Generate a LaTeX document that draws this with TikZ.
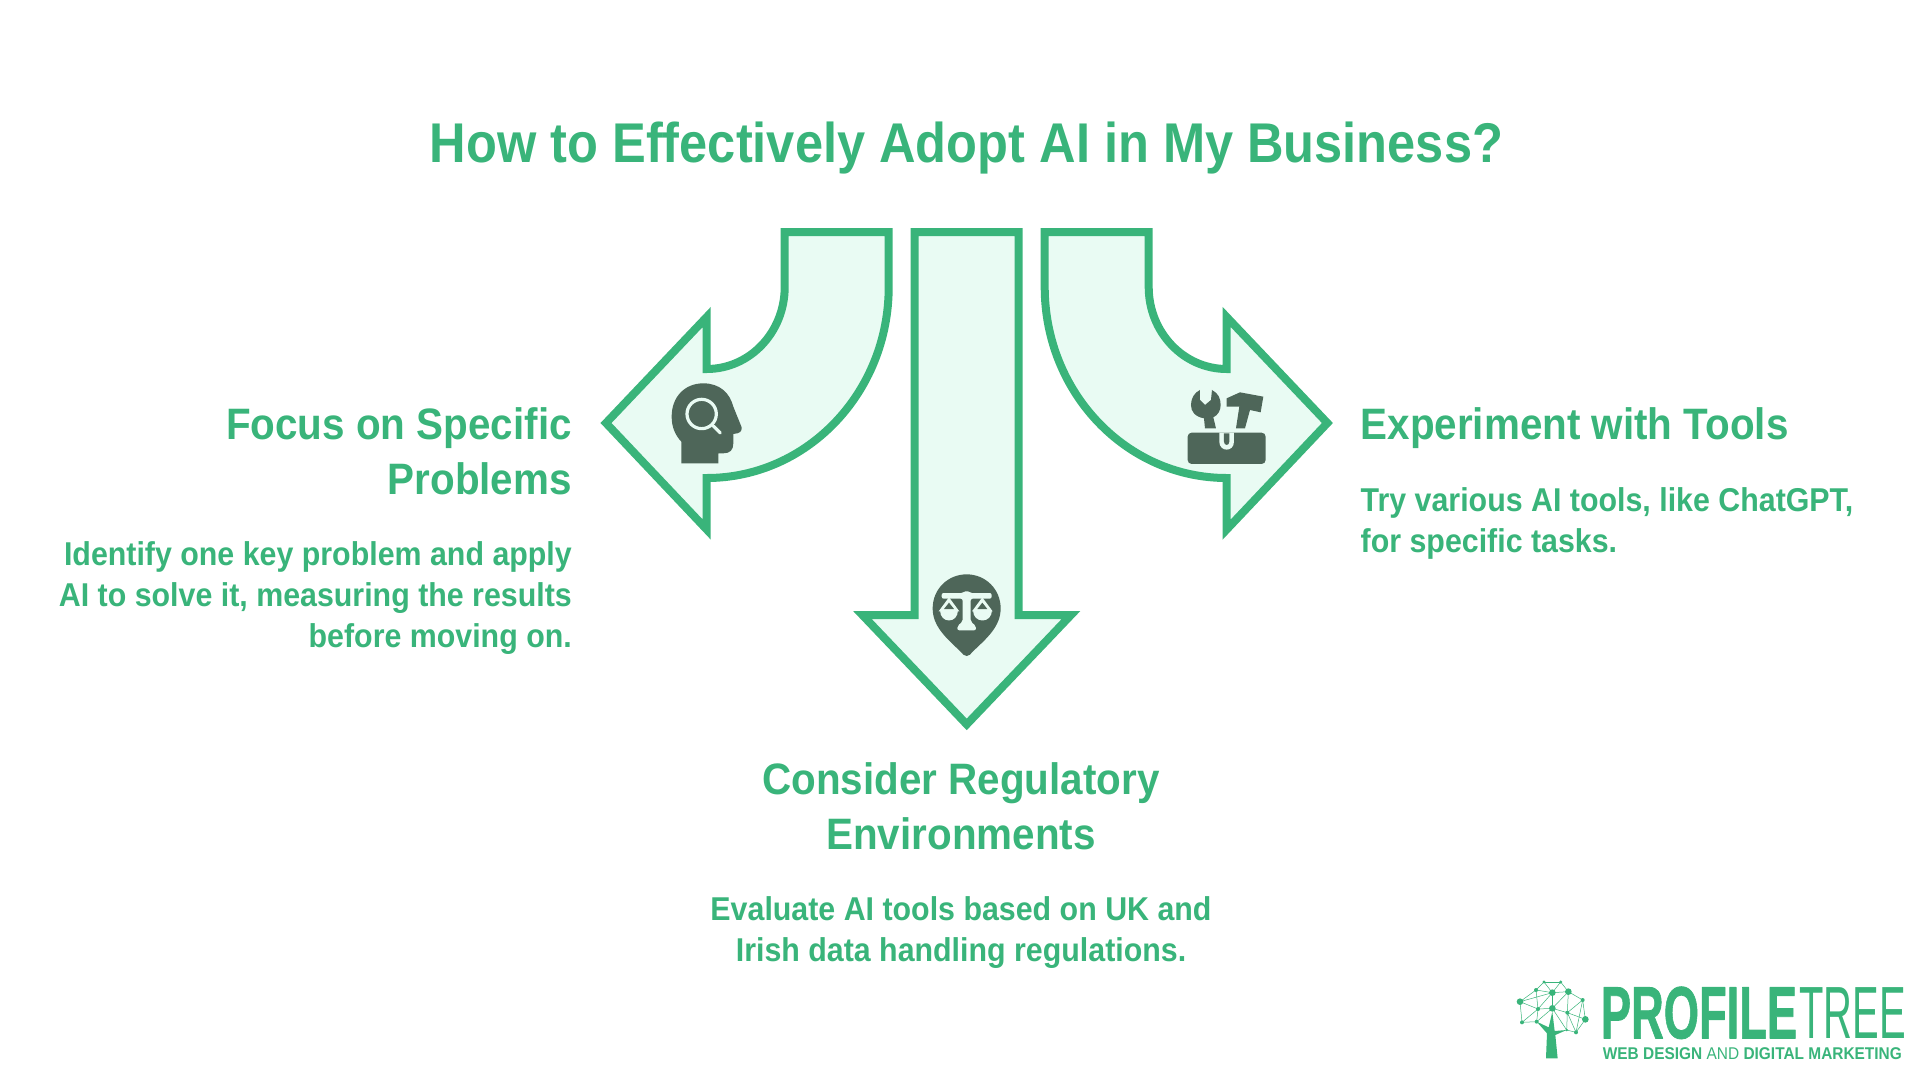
\documentclass[tikz,border=0pt]{standalone}
\usepackage{graphicx}
\usepackage{fontspec}
\setmainfont{Liberation Sans}[FakeStretch=0.92]
\newfontfamily\titlefont{Liberation Sans}[FakeStretch=0.903]
\newfontfamily\headfont{Liberation Sans}[FakeStretch=0.918]
\newfontfamily\logofont{Liberation Sans}
\newfontfamily\logoheavy{Liberation Sans Bold}[FakeBold=1.2]
\definecolor{arrowgreen}{rgb}{0.224,0.706,0.478}
\definecolor{arrowfill}{rgb}{0.914,0.984,0.953}
\definecolor{icondark}{rgb}{0.306,0.400,0.349}
\tikzset{
  bentarrow/.style={line width=8pt,draw=arrowgreen,fill=arrowfill,line cap=butt,line join=miter,miter limit=10},
  icon/.style={fill=icondark,draw=none,line join=round},
  iconcut/.style={draw=arrowfill,fill=none},
  titletext/.style={inner sep=0pt,text=arrowgreen,font=\titlefont\fontsize{56}{66}\selectfont\bfseries},
  headtext/.style={inner sep=0pt,text=arrowgreen,font=\headfont\fontsize{44}{55}\selectfont\bfseries},
  bodytext/.style={inner sep=0pt,text=arrowgreen,font=\fontsize{33}{41}\selectfont\bfseries},
  logodot/.style={fill=arrowgreen,draw=none},
  zoomed/.style={shift={(#1)},scale=0.3333}
}
\begin{document}
\begin{tikzpicture}[line cap=round,line join=round,x=1pt,y=-1pt]
  \useasboundingbox (0,0) rectangle (1920,1080);
  % title
  \node[titletext,anchor=base] (title) at (966.5,162.7) {How to Effectively Adopt AI in My Business?};
  % arrows
  \draw[bentarrow] (784.7,232) -- (888.7,232) -- (888.7,287)
    .. controls (888.7,392.5) and (807.2,478) .. (706.7,478)
    -- (706.7,529.5) -- (606,423) -- (706.7,317) -- (706.7,369)
    .. controls (749.8,369) and (784.7,332.3) .. (784.7,287) -- cycle;
  \draw[bentarrow] (914.7,232) -- (1018.7,232) -- (1018.7,615) -- (1071,615)
    -- (966.7,724.4) -- (862.4,615) -- (914.7,615) -- cycle;
  \draw[bentarrow] (1148.7,232) -- (1044.7,232) -- (1044.7,287)
    .. controls (1044.7,392.5) and (1126.2,478) .. (1226.7,478)
    -- (1226.7,529.5) -- (1327.4,423) -- (1226.7,317) -- (1226.7,369)
    .. controls (1183.6,369) and (1148.7,332.3) .. (1148.7,287) -- cycle;
  % head icon
  \begin{scope}[zoomed={580,210}]
    \fill[icon] (304,760) -- (304,695) .. controls (285,675) and (275,650) .. (275,620)
      .. controls (275,560) and (315,520) .. (370,520)
      .. controls (420,520) and (450,550) .. (460,590)
      -- (485,652) .. controls (486,665) and (480,670) .. (460,672)
      -- (460,700) .. controls (460,720) and (450,730) .. (430,730) -- (415,730) -- (415,760) -- cycle;
    \draw[iconcut,line width=3.2pt] (365,612) circle (44);
    \draw[iconcut,line width=3.2pt] (400,648) -- (421,669);
  \end{scope}
  % tools icon
  \begin{scope}[zoomed={1030,210}]
    \fill[icon,rounded corners=4pt] (473,668) rectangle (707,762);
    \fill[icon] (510,540) -- (510,570) -- (525,585) -- (543,570) -- (546,540)
      .. controls (565,550) and (572,565) .. (572,585)
      .. controls (572,600) and (565,615) .. (550,622) -- (558,655) -- (525,655) -- (522,625)
      .. controls (495,620) and (483,605) .. (483,585)
      .. controls (483,565) and (493,548) .. (510,540) -- cycle;
    \fill[icon] (590,565) -- (630,547) -- (700,560) -- (692,607) -- (660,600) -- (645,655) -- (618,655) -- (628,590) -- (590,590) -- cycle;
    \fill[arrowfill] (568,668) -- (568,695) .. controls (568,727) and (612,727) .. (612,695) -- (612,668) -- cycle;
    \fill[icon] (582,670) -- (598,670) -- (598,695) .. controls (598,708) and (582,708) .. (582,695) -- cycle;
  \end{scope}
  % scales icon
  \begin{scope}[zoomed={840,540}]
    \fill[icon] (380,348) .. controls (372,348) and (368,342) .. (362,335)
      .. controls (320,295) and (278,260) .. (278,205)
      .. controls (278,148) and (323,103) .. (380,103)
      .. controls (437,103) and (482,148) .. (482,205)
      .. controls (482,260) and (440,295) .. (398,335)
      .. controls (392,342) and (388,348) .. (380,348) -- cycle;
    \fill[arrowfill,rounded corners=2pt] (305,159) -- (370,159) -- (380,150) -- (390,159) -- (455,159) -- (455,176) -- (392,176)
      -- (392,245) -- (408,258) -- (408,271) -- (352,271) -- (352,258) -- (368,245) -- (368,176) -- (305,176) -- cycle;
    \foreach \px in {327,427}{
      \fill[arrowfill] (\px,172) -- (\px+31,214) -- (\px-31,214) -- cycle;
      \fill[icondark] (\px,188) -- (\px+15,207) -- (\px-15,207) -- cycle;
      \fill[arrowfill] (\px-28,211) .. controls (\px-28,252) and (\px+28,252) .. (\px+28,211) -- cycle;
    }
  \end{scope}
  % left text
  \node[headtext,anchor=base east,align=right] (focushead) at (572,494) {Focus on Specific\\Problems};
  \node[bodytext,anchor=base east,align=right] (focusbody) at (572,647) {Identify one key problem and apply\\AI to solve it, measuring the results\\before moving on.};
  % bottom text
  \node[headtext,anchor=base,align=center] (rulehead) at (961,849) {Consider Regulatory\\Environments};
  \node[bodytext,anchor=base,align=center] (rulebody) at (961,961) {Evaluate AI tools based on UK and\\Irish data handling regulations.};
  % right text
  \node[headtext,anchor=base west,align=left] (toolhead) at (1360.5,439) {Experiment with Tools};
  \node[bodytext,anchor=base west,align=left] (toolbody) at (1360.5,552) {Try various AI tools, like ChatGPT,\\for specific tasks.};
  % logo
  \begin{scope}[zoomed={1510,970}]
    \foreach \pname/\pa/\pb/\pr in {a/102/36/5,b/152/36/5,c/78/60/6,d/127/68/10,e/175/65/10,f/30/95/10,g/218/90/6,h/84/117/6,i/127/115/10,j/172/128/6,k/226/148/10,l/36/157/6,m/80/155/6,n/170/180/4,o/198/187/6}{
      \fill[logodot] (\pa,\pb) circle (\pr) coordinate (\pname);
    }
    \foreach \pfrom/\pto in {a/b,a/c,a/d,b/d,b/e,c/d,c/f,c/h,d/e,d/h,d/i,e/g,e/j,e/i,f/h,f/l,f/d,g/j,g/k,h/i,h/m,h/l,i/j,i/n,j/k,j/o,j/n,k/o,l/m,m/i,n/o,g/o}{
      \draw[arrowgreen,line width=0.5pt] (\pfrom) -- (\pto);
    }
    \fill[arrowgreen] (108,265) -- (143,265) -- (136,195) -- (170,180) -- (134,183) -- (127,125) -- (116,172) -- (80,155) -- (111,190) -- cycle;
    \node[anchor=base west,inner sep=0pt,text=arrowgreen] (logomain) at (272,205) {\logoheavy\fontsize{74}{74}\selectfont\scalebox{0.612}[1]{PROFILE}};
    \node[anchor=base west,inner sep=0pt,text=arrowgreen] (logotree) at (868,205) {\logofont\fontsize{74}{74}\selectfont\scalebox{0.54}[1]{TREE}};
    \node[anchor=base west,inner sep=0pt,text=arrowgreen] (logotag) at (278,268) {\logofont\fontsize{17}{17}\selectfont\scalebox{0.908}[1]{\textbf{WEB DESIGN} AND \textbf{DIGITAL MARKETING}}};
  \end{scope}
\end{tikzpicture}
\end{document}
